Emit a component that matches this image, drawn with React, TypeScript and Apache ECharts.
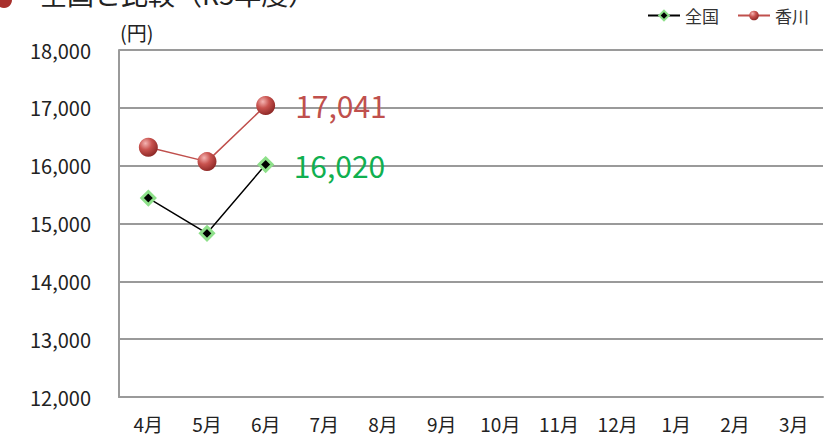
import React, { useEffect, useRef } from "react";
import * as echarts from "echarts";

const categories = ["4月", "5月", "6月", "7月", "8月", "9月", "10月", "11月", "12月", "1月", "2月", "3月"];
const zenkoku = [15440, 14830, 16020];
const kagawa = [16320, 16070, 17041];
const yMin = 12000;
const yMax = 18000;
const yInterval = 1000;
const titleText = "全国と比較（R5年度）";
const unitText = "(円)";

const FONT = "'Noto Sans CJK JP', 'Noto Sans', sans-serif";

export default function App() {
  const ref = useRef<HTMLDivElement>(null);
  useEffect(() => {
    if (!ref.current) return;
    const chart = echarts.init(ref.current, null, { renderer: "svg" });
    const sphere = new echarts.graphic.RadialGradient(0.35, 0.3, 0.75, [
      { offset: 0, color: "#f4b4b2" },
      { offset: 0.45, color: "#c9534f" },
      { offset: 1, color: "#8a2624" },
    ]);
    const lastLabel = (color: string) => ({
      show: true,
      position: "right" as const,
      distance: 20,
      color,
      fontSize: 30,
      fontFamily: FONT,
      formatter: (p: any) => Number(p.value).toLocaleString("en-US"),
    });
    chart.setOption({
      animation: false,
      textStyle: { fontFamily: FONT },
      grid: { left: 119, right: 7, top: 50, bottom: 44, containLabel: false },
      graphic: [
        { type: "circle", shape: { cx: 4, cy: 0, r: 8 }, style: { fill: "#a8302d" } },
        {
          type: "text",
          x: 40,
          y: -20,
          style: { text: titleText, fontSize: 27, fill: "#222", fontFamily: FONT },
        },
        {
          type: "text",
          x: 120,
          y: 22,
          style: { text: unitText, fontSize: 20, fill: "#222", fontFamily: FONT },
        },
      ],
      legend: {
        right: 16,
        top: 2,
        itemWidth: 32,
        itemHeight: 12,
        itemGap: 18,
        textStyle: { fontSize: 17, color: "#333", fontFamily: FONT },
        data: ["全国", "香川"],
      },
      xAxis: {
        type: "category",
        data: categories,
        boundaryGap: true,
        axisLine: { lineStyle: { color: "#9a9a9a", width: 2 } },
        axisTick: { show: false },
        axisLabel: { fontSize: 19, color: "#222", margin: 17, interval: 0, fontFamily: FONT },
      },
      yAxis: {
        type: "value",
        min: yMin,
        max: yMax,
        interval: yInterval,
        axisLine: { show: true, lineStyle: { color: "#9a9a9a", width: 2 } },
        axisTick: { show: false },
        splitLine: { lineStyle: { color: "#9a9a9a", width: 2 } },
        axisLabel: {
          fontSize: 20,
          color: "#222",
          margin: 28,
          fontFamily: FONT,
          formatter: (v: number) => v.toLocaleString("en-US"),
        },
      },
      series: [
        {
          name: "全国",
          type: "line",
          data: zenkoku.map((v, i) => (i === zenkoku.length - 1 ? { value: v, label: lastLabel("#10b050") } : v)),
          symbol: "diamond",
          symbolSize: 13,
          lineStyle: { color: "#000", width: 1.5 },
          itemStyle: { color: "#000", borderColor: "#8ee08a", borderWidth: 3 },
          z: 3,
        },
        {
          name: "香川",
          type: "line",
          data: kagawa.map((v, i) => (i === kagawa.length - 1 ? { value: v, label: lastLabel("#c0504d") } : v)),
          symbol: "circle",
          symbolSize: 19,
          lineStyle: { color: "#c0504d", width: 1.5 },
          itemStyle: { color: sphere, borderWidth: 0 },
          z: 2,
        },
      ],
    });
    return () => chart.dispose();
  }, []);
  return (
    <div
      ref={ref}
      style={{ position: "fixed", left: 0, top: 0, width: 830, height: 441, background: "#fff" }}
    />
  );
}
